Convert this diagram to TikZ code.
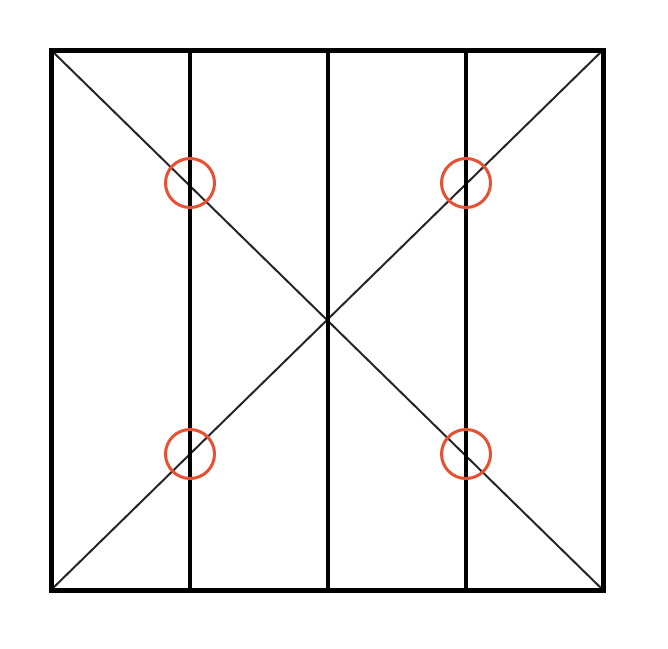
\documentclass[tikz,border=0pt]{standalone}
\begin{document}
\begin{tikzpicture}[x=1pt,y=-1pt,
  frame/.style={line width=5pt,draw=black},
  vline/.style={line width=3.2pt,draw=black},
  diag/.style={line width=2pt,draw=black!85},
  ring/.style={circle,draw={rgb,255:red,232;green,80;blue,50},line width=3pt,minimum size=49pt,inner sep=0pt}]
\useasboundingbox (0,0) rectangle (668,648);
\coordinate (tl) at (51,50);
\coordinate (tr) at (603,50);
\coordinate (bl) at (51,590);
\coordinate (br) at (603,590);
\coordinate (v1t) at (190,50); \coordinate (v1b) at (190,590);
\coordinate (v2t) at (328,50); \coordinate (v2b) at (328,590);
\coordinate (v3t) at (466,50); \coordinate (v3b) at (466,590);
\draw[diag] (tl) -- (br);
\draw[diag] (bl) -- (tr);
\draw[vline] (v1t) -- (v1b);
\draw[vline] (v2t) -- (v2b);
\draw[vline] (v3t) -- (v3b);
\draw[frame] (tl) rectangle (br);
\node[ring] (c1) at (190,183) {};
\node[ring] (c2) at (466,183) {};
\node[ring] (c3) at (190,454) {};
\node[ring] (c4) at (466,454) {};
\end{tikzpicture}
\end{document}
